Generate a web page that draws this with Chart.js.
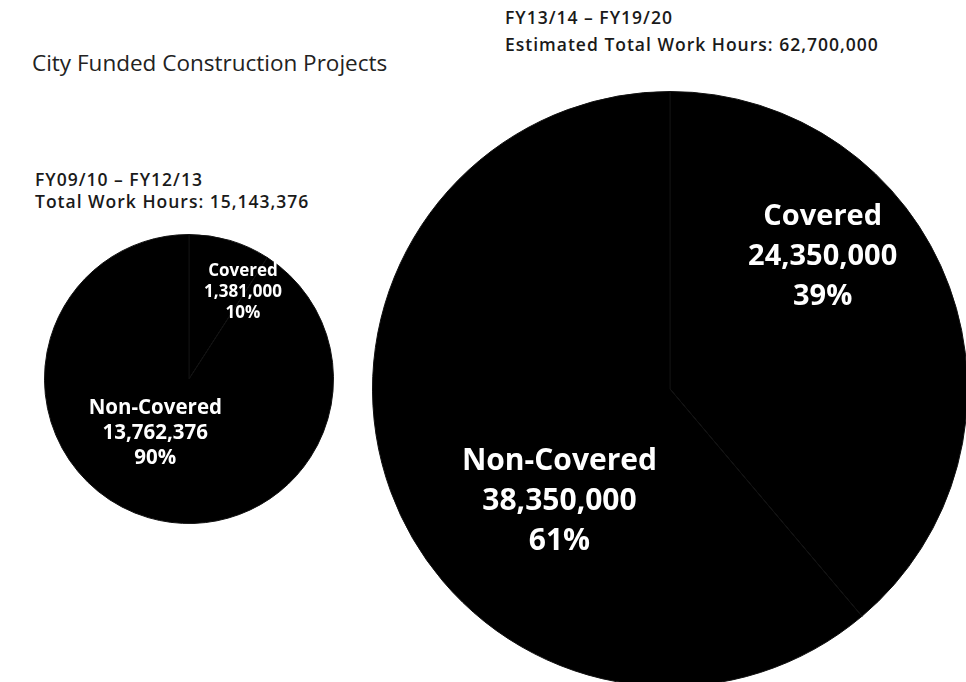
<!DOCTYPE html>
<html>
<head>
<meta charset="utf-8">
<script src="https://cdn.jsdelivr.net/npm/chart.js@4.4.1/dist/chart.umd.min.js"></script>
<style>
  html, body { margin: 0; padding: 0; background: #fff; }
  body { width: 966px; height: 682px; position: relative; overflow: hidden; font-family: 'Open Sans', Lato, sans-serif; color: #1a1a1a; }
  .txt { position: absolute; white-space: nowrap; line-height: 1; }
  .head { font-size: 17.5px; font-weight: 600; letter-spacing: 1px; }
  .box { position: absolute; }
</style>
</head>
<body>
<div class="txt" style="left:32px; top:52px; font-size:22.5px; color:#222;">City Funded Construction Projects</div>
<div class="txt head" style="left:505px; top:9px;">FY13/14 – FY19/20</div>
<div class="txt head" style="left:505px; top:36px;">Estimated Total Work Hours: 62,700,000</div>
<div class="txt head" style="left:35px; top:171px;">FY09/10 – FY12/13</div>
<div class="txt head" style="left:35px; top:193px;">Total Work Hours: 15,143,376</div>

<div class="box" style="left:44px; top:234px; width:290px; height:290px;"><canvas id="chartPast"></canvas></div>
<div class="box" style="left:372px; top:91px; width:596px; height:596px;"><canvas id="chartFuture"></canvas></div>

<script>
const sliceLabels = ['Covered', 'Non-Covered'];
const pastHours = [1381000, 13762376];
const futureHours = [24350000, 38350000];
const pastPercents = ['10%', '90%'];
const futurePercents = ['39%', '61%'];

// draws the three-line label inside each slice
const sliceTextPlugin = {
  id: 'sliceText',
  afterDatasetsDraw(chart, args, opts) {
    const ctx = chart.ctx;
    const meta = chart.getDatasetMeta(0);
    const values = chart.data.datasets[0].data;
    meta.data.forEach((arc, i) => {
      const { x, y, outerRadius } = arc.getProps(['x', 'y', 'outerRadius'], true);
      const a = (opts.angles[i] - 90) * Math.PI / 180;
      const cx = x + Math.cos(a) * outerRadius * opts.dist[i];
      const cy = y + Math.sin(a) * outerRadius * opts.dist[i];
      const lines = [chart.data.labels[i], values[i].toLocaleString('en-US'), opts.percents[i]];
      const size = opts.sizes[i];
      const lh = opts.lineHeights[i];
      ctx.save();
      ctx.fillStyle = '#fff';
      ctx.font = `bold ${size}px 'Open Sans', Lato, sans-serif`;
      ctx.textAlign = 'center';
      ctx.textBaseline = 'middle';
      lines.forEach((t, j) => ctx.fillText(t, cx, cy + (j - 1) * lh));
      ctx.restore();
    });
  }
};

function makePie(canvasId, values, textOpts) {
  return new Chart(document.getElementById(canvasId), {
    type: 'pie',
    data: {
      labels: sliceLabels,
      datasets: [{
        data: values,
        backgroundColor: ['#000', '#000'],
        borderColor: '#111',
        borderWidth: 1
      }]
    },
    options: {
      responsive: true,
      maintainAspectRatio: false,
      animation: false,
      layout: { padding: 0 },
      plugins: {
        legend: { display: false },
        tooltip: { enabled: false },
        sliceText: textOpts
      }
    },
    plugins: [sliceTextPlugin]
  });
}

makePie('chartPast', pastHours, {
  percents: pastPercents,
  angles: [32, 212],
  dist: [0.705, 0.44],
  sizes: [17, 20.5],
  lineHeights: [21, 25]
});

makePie('chartFuture', futureHours, {
  percents: futurePercents,
  angles: [49, 224.5],
  dist: [0.68, 0.53],
  sizes: [29, 30],
  lineHeights: [40, 40]
});
</script>
</body>
</html>
